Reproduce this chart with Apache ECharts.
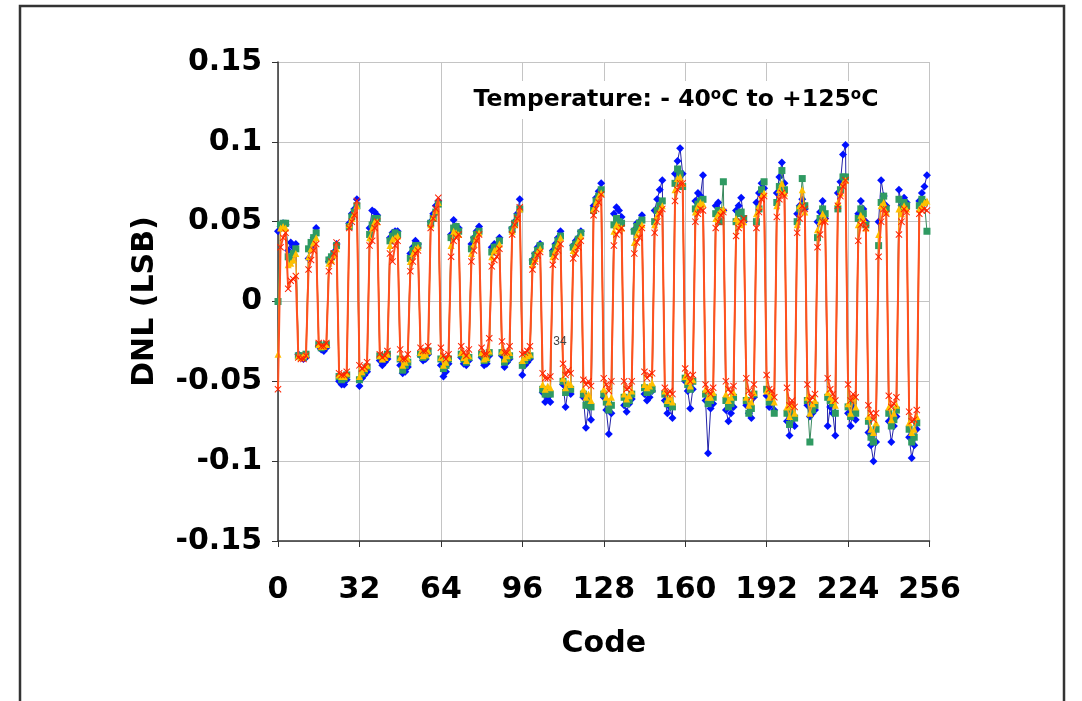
<!DOCTYPE html>
<html>
<head>
<meta charset="utf-8">
<script src="https://cdn.jsdelivr.net/npm/echarts@6/dist/echarts.min.js"></script>
<style>
html,body{margin:0;padding:0;background:#fff;}
#chart{width:1082px;height:701px;}
</style>
</head>
<body>
<div id="chart"></div>
<script>
// Codes 0..255
const codes = Array.from({length: 256}, (_, i) => i);
const xTicks = [0, 32, 64, 96, 128, 160, 192, 224, 256];
const yTicks = [-0.15, -0.1, -0.05, 0, 0.05, 0.1, 0.15];

const dnlBlue = [
 .044,.047,.049,.048, .032,.037,.034,.036, -.033,-.035,-.036,-.035, .027,.034,.040,.046,
 -.028,-.030,-.031,-.029, .025,.028,.031,.036, -.050,-.052,-.052,-.049, .049,.055,.058,.064,
 -.053,-.048,-.046,-.044, .046,.057,.056,.054, -.037,-.040,-.038,-.036, .040,.043,.044,.044,
 -.040,-.045,-.044,-.041, .030,.034,.038,.036, -.034,-.037,-.036,-.033, .050,.055,.060,.063,
 -.040,-.047,-.044,-.039, .042,.051,.047,.046, -.035,-.039,-.040,-.037, .036,.040,.044,.047,
 -.035,-.040,-.039,-.034, .034,.036,.035,.040, -.034,-.041,-.038,-.036, .046,.050,.055,.064,
 -.046,-.040,-.038,-.036, .026,.030,.034,.036, -.057,-.063,-.060,-.063, .032,.036,.040,.044,
 -.052,-.066,-.055,-.058, .035,.038,.040,.044, -.060,-.079,-.066,-.074, .060,.065,.069,.074,
 -.060,-.068,-.083,-.070, .055,.059,.057,.053, -.065,-.069,-.064,-.061, .045,.049,.050,.054,
 -.058,-.062,-.060,-.056, .057,.064,.070,.076, -.062,-.070,-.066,-.073, .080,.088,.096,.080,
 -.050,-.056,-.067,-.055, .063,.068,.066,.079, -.062,-.095,-.067,-.064, .060,.062,.056,.057,
 -.068,-.075,-.070,-.066, .057,.060,.065,.050, -.065,-.070,-.073,-.060, .062,.068,.074,.071,
 -.059,-.066,-.063,-.068, .068,.078,.087,.074, -.075,-.084,-.072,-.078, .055,.060,.064,.058,
 -.065,-.072,-.070,-.068, .050,.056,.063,.052, -.078,-.066,-.070,-.084, .068,.075,.092,.098,
 -.070,-.078,-.066,-.074, .055,.063,.058,.050, -.082,-.090,-.100,-.088, .050,.076,.066,.060,
 -.075,-.088,-.078,-.072, .070,.060,.065,.062, -.085,-.098,-.090,-.080, .063,.068,.072,.079
];

const dnlGreen = [
 .000,.048,.049,.049, .028,.026,.030,.033, -.034,-.034,-.035,-.033, .033,.037,.040,.043,
 -.027,-.029,-.028,-.027, .026,.028,.030,.035, -.047,-.049,-.048,-.046, .047,.053,.056,.060,
 -.049,-.045,-.043,-.041, .042,.048,.052,.052, -.034,-.036,-.035,-.033, .038,.041,.043,.042,
 -.036,-.043,-.040,-.038, .027,.032,.035,.035, -.033,-.035,-.034,-.031, .049,.052,.056,.061,
 -.036,-.042,-.040,-.036, .040,.046,.047,.044, -.033,-.036,-.038,-.035, .033,.039,.042,.044,
 -.033,-.037,-.036,-.032, .031,.034,.034,.038, -.032,-.038,-.036,-.034, .045,.049,.053,.058,
 -.040,-.037,-.035,-.034, .025,.029,.032,.035, -.055,-.058,-.056,-.058, .030,.034,.038,.041,
 -.050,-.057,-.053,-.055, .034,.036,.039,.043, -.058,-.065,-.062,-.066, .057,.063,.066,.070,
 -.058,-.063,-.068,-.065, .048,.052,.050,.049, -.060,-.064,-.062,-.058, .044,.047,.049,.051,
 -.054,-.057,-.056,-.055, .050,.057,.060,.063, -.058,-.064,-.062,-.066, .074,.083,.080,.072,
 -.048,-.052,-.055,-.050, .058,.061,.063,.064, -.058,-.064,-.062,-.060, .055,.057,.050,.075,
 -.062,-.066,-.064,-.060, .050,.055,.056,.052, -.062,-.070,-.067,-.058, .050,.058,.070,.075,
 -.055,-.063,-.060,-.070, .062,.072,.082,.070, -.070,-.077,-.068,-.073, .050,.058,.077,.060,
 -.062,-.088,-.068,-.065, .040,.052,.058,.055, -.060,-.062,-.064,-.070, .058,.070,.078,.078,
 -.066,-.072,-.062,-.070, .052,.058,.055,.048, -.075,-.085,-.088,-.080, .035,.062,.066,.058,
 -.070,-.078,-.074,-.068, .064,.058,.062,.060, -.080,-.088,-.085,-.076, .060,.064,.062,.044
];

const dnlOrange = [
 -.033,.046,.047,.046, .023,.024,.026,.030, -.034,-.035,-.034,-.033, .028,.033,.037,.040,
 -.027,-.028,-.028,-.027, .024,.026,.029,.033, -.046,-.047,-.047,-.045, .048,.052,.055,.060,
 -.047,-.044,-.042,-.040, .040,.046,.050,.050, -.034,-.036,-.035,-.033, .035,.039,.040,.041,
 -.035,-.040,-.038,-.036, .025,.030,.033,.034, -.032,-.034,-.033,-.031, .048,.053,.057,.062,
 -.035,-.040,-.038,-.035, .035,.044,.043,.042, -.032,-.035,-.037,-.034, .030,.036,.040,.043,
 -.032,-.036,-.035,-.031, .028,.032,.033,.036, -.031,-.036,-.034,-.032, .044,.048,.052,.058,
 -.037,-.035,-.034,-.033, .023,.027,.031,.033, -.052,-.055,-.053,-.054, .028,.032,.036,.040,
 -.048,-.054,-.051,-.052, .032,.035,.038,.041, -.055,-.060,-.058,-.062, .058,.062,.066,.068,
 -.055,-.060,-.063,-.060, .044,.048,.047,.046, -.058,-.061,-.059,-.056, .037,.042,.045,.048,
 -.052,-.054,-.053,-.051, .048,.054,.057,.060, -.056,-.062,-.060,-.063, .070,.077,.078,.074,
 -.047,-.050,-.053,-.049, .056,.060,.062,.061, -.055,-.060,-.060,-.057, .052,.055,.057,.058,
 -.058,-.062,-.060,-.057, .052,.050,.048,.050, -.060,-.065,-.063,-.057, .055,.060,.066,.068,
 -.056,-.060,-.058,-.063, .060,.070,.074,.068, -.066,-.072,-.065,-.070, .048,.060,.070,.056,
 -.060,-.070,-.064,-.062, .045,.050,.055,.052, -.057,-.060,-.062,-.065, .062,.068,.074,.076,
 -.064,-.070,-.060,-.066, .048,.054,.052,.046, -.072,-.080,-.082,-.076, .042,.060,.062,.056,
 -.066,-.074,-.070,-.065, .058,.055,.060,.058, -.076,-.082,-.080,-.072, .058,.060,.062,.063
];

const dnlRed = [
 -.055,.034,.040,.043, .008,.013,.014,.016, -.035,-.036,-.036,-.034, .020,.026,.032,.036,
 -.026,-.028,-.028,-.026, .019,.025,.030,.037, -.045,-.046,-.046,-.044, .046,.050,.054,.063,
 -.040,-.042,-.041,-.038, .035,.038,.046,.050, -.033,-.035,-.034,-.031, .030,.025,.035,.038,
 -.030,-.036,-.036,-.033, .019,.025,.030,.032, -.029,-.031,-.031,-.028, .046,.052,.058,.065,
 -.029,-.034,-.036,-.033, .028,.038,.040,.042, -.028,-.032,-.034,-.030, .025,.032,.038,.042,
 -.029,-.033,-.033,-.023, .022,.026,.028,.033, -.025,-.032,-.032,-.028, .042,.048,.052,.059,
 -.033,-.032,-.031,-.028, .020,.025,.029,.031, -.045,-.048,-.048,-.047, .023,.028,.032,.036,
 -.039,-.046,-.043,-.045, .027,.030,.034,.038, -.049,-.052,-.050,-.053, .054,.058,.062,.067,
 -.048,-.052,-.056,-.050, .035,.042,.044,.046, -.050,-.055,-.054,-.050, .030,.037,.040,.046,
 -.044,-.048,-.046,-.045, .043,.050,.055,.058, -.054,-.058,-.056,-.058, .063,.070,.074,.074,
 -.042,-.046,-.050,-.046, .050,.055,.058,.057, -.052,-.056,-.058,-.054, .046,.050,.054,.056,
 -.050,-.055,-.057,-.053, .041,.046,.050,.052, -.048,-.056,-.060,-.052, .046,.056,.064,.066,
 -.046,-.055,-.056,-.060, .053,.064,.068,.066, -.054,-.065,-.062,-.066, .043,.052,.060,.058,
 -.052,-.062,-.060,-.058, .034,.042,.050,.050, -.048,-.055,-.058,-.062, .060,.066,.072,.076,
 -.052,-.062,-.058,-.060, .038,.048,.050,.046, -.065,-.070,-.074,-.070, .028,.050,.058,.055,
 -.059,-.066,-.064,-.060, .042,.050,.058,.056, -.069,-.075,-.074,-.068, .055,.057,.058,.057
];

const FONT = 'DejaVu Sans';
const pairs = arr => codes.map((c, i) => [c, arr[i]]);
const xMark = 'path://M0,1L1,0L5,4L9,0L10,1L6,5L10,9L9,10L5,6L1,10L0,9L4,5Z';

const chart = echarts.init(document.getElementById('chart'), null, {renderer: 'canvas'});
chart.setOption({
  animation: false,
  backgroundColor: '#ffffff',
  grid: {left: 278, right: 152.5, top: 62, bottom: 160, containLabel: false},
  xAxis: {
    type: 'value', min: xTicks[0], max: xTicks[xTicks.length - 1], interval: 32,
    axisLine: {show: true, onZero: false, lineStyle: {color: '#333', width: 1.5}},
    axisTick: {show: true, inside: false, length: 6, lineStyle: {color: '#333'}},
    axisLabel: {fontFamily: FONT, fontWeight: 'bold', fontSize: 30, color: '#000', margin: 34,
      showMinLabel: true, showMaxLabel: true},
    splitLine: {show: true, lineStyle: {color: '#c4c4c4', width: 1}},
    name: 'Code', nameLocation: 'middle', nameGap: 88,
    nameTextStyle: {fontFamily: FONT, fontWeight: 'bold', fontSize: 30, color: '#000'}
  },
  yAxis: {
    type: 'value', min: yTicks[0], max: yTicks[yTicks.length - 1], interval: 0.05,
    axisLine: {show: true, onZero: false, lineStyle: {color: '#333', width: 1.5}},
    axisTick: {show: true, inside: false, length: 6, lineStyle: {color: '#333'}},
    axisLabel: {fontFamily: FONT, fontWeight: 'bold', fontSize: 30, color: '#000', margin: 16,
      showMinLabel: true, showMaxLabel: true,
      formatter: v => String(Math.round(v * 100) / 100)},
    splitLine: {show: true, lineStyle: {color: '#c4c4c4', width: 1}},
    name: 'DNL (LSB)', nameLocation: 'middle', nameGap: 118, nameRotate: 90,
    nameTextStyle: {fontFamily: FONT, fontWeight: 'bold', fontSize: 30, color: '#000'}
  },
  series: [
    {type: 'line', name: 'B', data: pairs(dnlBlue), symbol: 'diamond', symbolSize: 8,
     itemStyle: {color: '#0010ff'}, lineStyle: {color: '#2323a8', width: 1}, z: 2},
    {type: 'line', name: 'G', data: pairs(dnlGreen), symbol: 'rect', symbolSize: 7,
     itemStyle: {color: '#2f9a62'}, lineStyle: {color: '#3a8a5e', width: 1}, z: 3},
    {type: 'line', name: 'O', data: pairs(dnlOrange), symbol: 'triangle', symbolSize: 7,
     itemStyle: {color: '#ffc000'}, lineStyle: {color: '#ff9c1a', width: 1.5}, z: 4},
    {type: 'line', name: 'R', data: pairs(dnlRed), symbol: xMark, symbolSize: 7,
     itemStyle: {color: '#ff2200'}, lineStyle: {color: '#ff5020', width: 2}, z: 5}
  ],
  graphic: [
    {type: 'rect', z: -10, silent: true,
     shape: {x: 20, y: 6, width: 1044, height: 720},
     style: {fill: 'none', stroke: '#333', lineWidth: 2.5}},
    {type: 'text', z: 100, silent: true,
     style: {x: 676, y: 100, align: 'center', verticalAlign: 'middle',
       text: 'Temperature: - 40{s|o}C to +125{s|o}C',
       fontFamily: FONT, fontWeight: 'bold', fontSize: 23.5, fill: '#000',
       backgroundColor: '#fff', padding: [7, 10],
       rich: {s: {fontFamily: FONT, fontWeight: 'bold', fontSize: 15, fill: '#000', verticalAlign: 'top'}}}},
    {type: 'text', z: 100, silent: true,
     style: {x: 560, y: 342, align: 'center', verticalAlign: 'middle', text: '34',
       fontFamily: 'Liberation Sans', fontSize: 12, fill: '#444'}}
  ]
});
</script>
</body>
</html>
